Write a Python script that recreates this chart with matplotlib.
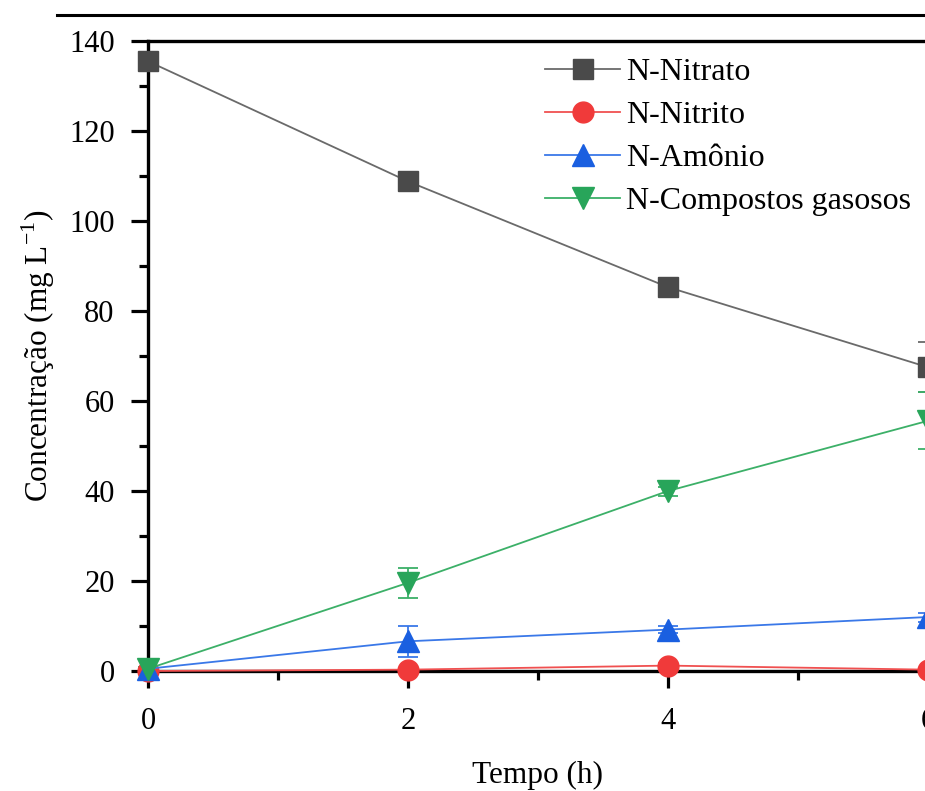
import matplotlib
matplotlib.use("Agg")
import matplotlib.pyplot as plt
from matplotlib.ticker import MultipleLocator
from matplotlib.lines import Line2D

plt.rcParams['font.family'] = ['Liberation Serif', 'DejaVu Serif']
plt.rcParams['mathtext.fontset'] = 'custom'
plt.rcParams['mathtext.rm'] = 'Liberation Serif'

tempo = [0, 2, 4, 6]
nitrato = [135.5, 108.8, 85.3, 67.5]
nitrato_err = [0.8, 1.0, 1.2, 5.6]
nitrito = [0.0, 0.3, 1.2, 0.3]
nitrito_err = [0.1, 0.2, 0.5, 0.2]
amonio = [0.5, 6.6, 9.2, 12.0]
amonio_err = [0.3, 3.4, 0.8, 1.0]
gasosos = [0.5, 19.6, 40.0, 55.6]
gasosos_err = [0.3, 3.3, 1.0, 6.3]

labels = ['N-Nitrato', 'N-Nitrito', 'N-Amônio', 'N-Compostos gasosos']
colors = ['#4a4a4a', '#f03a3a', '#1a5fe0', '#28a55a']
line_colors = ['#6a6a6a', '#f05050', '#3a78e8', '#3cb068']
markers = ['s', 'o', '^', 'v']
msizes = [14, 15, 16, 16]
series = [nitrato, nitrito, amonio, gasosos]
errs = [nitrato_err, nitrito_err, amonio_err, gasosos_err]

W, H = 925, 791
fig = plt.figure(figsize=(W / 100, H / 100), dpi=100)
ax = fig.add_axes([148 / W, (H - 671) / H, 780 / W, 630 / H])

for y, e, c, lc, m, ms, lab in zip(series, errs, colors, line_colors, markers, msizes, labels):
    ax.errorbar(tempo, y, yerr=e, color=lc, ecolor=lc, elinewidth=1.3,
                capsize=7, capthick=1.3, linewidth=1.3, marker=m,
                markersize=ms, markerfacecolor=c, markeredgecolor=c,
                label=lab, clip_on=False, zorder=3)

ax.set_xlim(0, 6)
ax.set_ylim(0, 140)
ax.xaxis.set_major_locator(MultipleLocator(2))
ax.xaxis.set_minor_locator(MultipleLocator(1))
ax.yaxis.set_major_locator(MultipleLocator(20))
ax.yaxis.set_minor_locator(MultipleLocator(10))
ax.tick_params(which='major', direction='out', length=12, width=2.3, labelsize=22)
ax.tick_params(axis='x', which='major', pad=14)
ax.tick_params(axis='y', which='major', pad=12)
ax.tick_params(which='minor', direction='out', length=6.5, width=2.3)
ax.tick_params(top=False, right=False)
for s in ax.spines.values():
    s.set_linewidth(2.4)
ax.spines['right'].set_visible(False)

ax.set_xlabel('Tempo (h)', fontsize=22.5, labelpad=18)
ax.set_ylabel('Concentração (mg L$^{\\mathregular{-1}}$)', fontsize=22.5, labelpad=9)

handles = [Line2D([], [], color=lc, linewidth=1.3, marker=m, markersize=ms,
                  markerfacecolor=c, markeredgecolor=c)
           for c, lc, m, ms in zip(colors, line_colors, markers, msizes)]
ax.legend(handles, labels, loc='upper left', bbox_to_anchor=(545 / W, (H - 58) / H),
          bbox_transform=fig.transFigure, frameon=False, fontsize=23,
          handlelength=2.35, handletextpad=0.2, labelspacing=0.42, borderaxespad=0,
          borderpad=0)

fig.add_artist(Line2D([57 / W, 1.0], [(H - 15) / H, (H - 15) / H],
                      transform=fig.transFigure, color='black', linewidth=2.2))

fig.savefig('out.png', dpi=100)
